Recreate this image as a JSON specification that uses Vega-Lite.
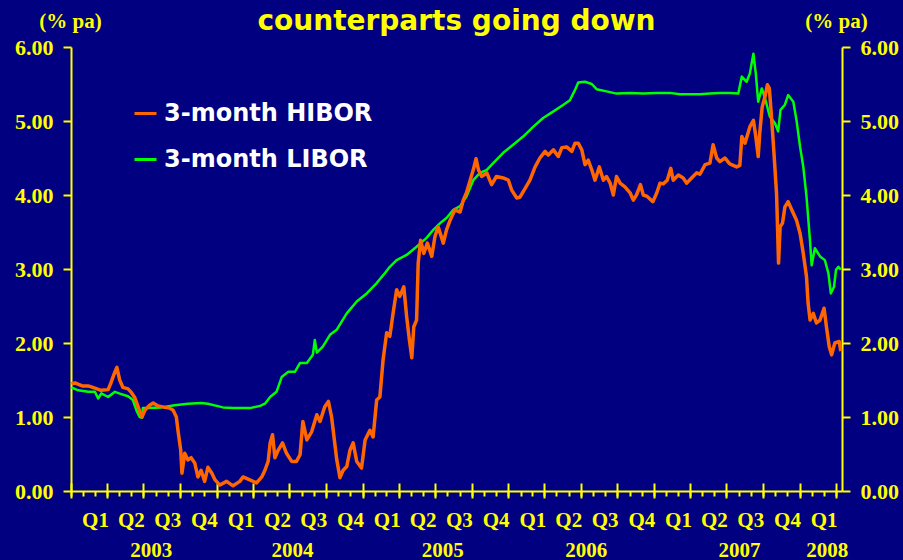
{
  "$schema": "https://vega.github.io/schema/vega-lite/v6.json",
  "width": 771,
  "height": 444,
  "autosize": {"type": "none"},
  "padding": {"left": 71, "top": 47, "right": 61, "bottom": 69},
  "background": "#000080",
  "title": {
    "text": "counterparts going down",
    "color": "#FFFF00",
    "font": "DejaVu Sans",
    "fontWeight": "bold",
    "fontSize": 28,
    "anchor": "middle",
    "frame": "group",
    "baseline": "alphabetic",
    "offset": -48
  },
  "config": {
    "view": {"stroke": null},
    "axis": {
      "domainColor": "#FFFF00",
      "tickColor": "#FFFF00",
      "labelColor": "#FFFF00",
      "titleColor": "#FFFF00",
      "grid": false,
      "domainWidth": 2,
      "tickWidth": 2,
      "labelFont": "Liberation Serif",
      "labelFontWeight": "bold",
      "titleFont": "Liberation Serif",
      "titleFontWeight": "bold"
    }
  },
  "datasets": {
    "hibor": [
      {"date": "2003-01-02", "rate": 1.45}, {"date": "2003-01-11", "rate": 1.46}, {"date": "2003-01-29", "rate": 1.42},
      {"date": "2003-02-13", "rate": 1.42}, {"date": "2003-03-02", "rate": 1.39}, {"date": "2003-03-17", "rate": 1.36},
      {"date": "2003-04-04", "rate": 1.37}, {"date": "2003-04-11", "rate": 1.46}, {"date": "2003-04-21", "rate": 1.61},
      {"date": "2003-04-26", "rate": 1.67}, {"date": "2003-05-03", "rate": 1.50}, {"date": "2003-05-11", "rate": 1.40},
      {"date": "2003-05-24", "rate": 1.38}, {"date": "2003-05-31", "rate": 1.34}, {"date": "2003-06-10", "rate": 1.26},
      {"date": "2003-06-18", "rate": 1.14}, {"date": "2003-06-25", "rate": 1.03}, {"date": "2003-06-28", "rate": 1.00},
      {"date": "2003-07-05", "rate": 1.09}, {"date": "2003-07-17", "rate": 1.16}, {"date": "2003-07-26", "rate": 1.19},
      {"date": "2003-08-07", "rate": 1.15}, {"date": "2003-08-24", "rate": 1.13}, {"date": "2003-09-05", "rate": 1.12},
      {"date": "2003-09-14", "rate": 1.09}, {"date": "2003-09-22", "rate": 1.00}, {"date": "2003-09-26", "rate": 0.82},
      {"date": "2003-10-03", "rate": 0.55}, {"date": "2003-10-06", "rate": 0.24}, {"date": "2003-10-13", "rate": 0.51},
      {"date": "2003-10-21", "rate": 0.42}, {"date": "2003-10-29", "rate": 0.45}, {"date": "2003-11-07", "rate": 0.38},
      {"date": "2003-11-15", "rate": 0.19}, {"date": "2003-11-23", "rate": 0.28}, {"date": "2003-12-02", "rate": 0.13},
      {"date": "2003-12-10", "rate": 0.32}, {"date": "2003-12-20", "rate": 0.24}, {"date": "2003-12-28", "rate": 0.15},
      {"date": "2004-01-09", "rate": 0.08}, {"date": "2004-01-26", "rate": 0.13}, {"date": "2004-02-11", "rate": 0.07},
      {"date": "2004-02-28", "rate": 0.13}, {"date": "2004-03-07", "rate": 0.19}, {"date": "2004-03-24", "rate": 0.15},
      {"date": "2004-04-10", "rate": 0.11}, {"date": "2004-04-23", "rate": 0.19}, {"date": "2004-05-01", "rate": 0.28},
      {"date": "2004-05-09", "rate": 0.40}, {"date": "2004-05-14", "rate": 0.65}, {"date": "2004-05-20", "rate": 0.76},
      {"date": "2004-05-26", "rate": 0.45}, {"date": "2004-06-03", "rate": 0.55}, {"date": "2004-06-14", "rate": 0.65},
      {"date": "2004-06-24", "rate": 0.51}, {"date": "2004-07-07", "rate": 0.40}, {"date": "2004-07-19", "rate": 0.40},
      {"date": "2004-07-28", "rate": 0.49}, {"date": "2004-08-04", "rate": 0.94}, {"date": "2004-08-14", "rate": 0.69},
      {"date": "2004-08-26", "rate": 0.80}, {"date": "2004-09-08", "rate": 1.03}, {"date": "2004-09-16", "rate": 0.94},
      {"date": "2004-09-28", "rate": 1.14}, {"date": "2004-10-07", "rate": 1.21}, {"date": "2004-10-15", "rate": 1.00},
      {"date": "2004-10-28", "rate": 0.42}, {"date": "2004-11-05", "rate": 0.18}, {"date": "2004-11-13", "rate": 0.28},
      {"date": "2004-11-22", "rate": 0.33}, {"date": "2004-11-30", "rate": 0.55}, {"date": "2004-12-08", "rate": 0.65},
      {"date": "2004-12-17", "rate": 0.40}, {"date": "2004-12-29", "rate": 0.31}, {"date": "2005-01-07", "rate": 0.69},
      {"date": "2005-01-19", "rate": 0.82}, {"date": "2005-01-27", "rate": 0.73}, {"date": "2005-02-05", "rate": 1.23},
      {"date": "2005-02-13", "rate": 1.27}, {"date": "2005-02-21", "rate": 1.77}, {"date": "2005-03-02", "rate": 2.14},
      {"date": "2005-03-10", "rate": 2.09}, {"date": "2005-03-18", "rate": 2.40}, {"date": "2005-03-27", "rate": 2.72},
      {"date": "2005-04-04", "rate": 2.63}, {"date": "2005-04-14", "rate": 2.76}, {"date": "2005-04-21", "rate": 2.36},
      {"date": "2005-04-28", "rate": 2.04}, {"date": "2005-05-04", "rate": 1.80}, {"date": "2005-05-09", "rate": 2.22},
      {"date": "2005-05-16", "rate": 2.31}, {"date": "2005-05-20", "rate": 3.08}, {"date": "2005-05-26", "rate": 3.39},
      {"date": "2005-06-03", "rate": 3.21}, {"date": "2005-06-12", "rate": 3.35}, {"date": "2005-06-23", "rate": 3.17},
      {"date": "2005-07-01", "rate": 3.44}, {"date": "2005-07-09", "rate": 3.57}, {"date": "2005-07-22", "rate": 3.35},
      {"date": "2005-07-30", "rate": 3.53}, {"date": "2005-08-08", "rate": 3.66}, {"date": "2005-08-20", "rate": 3.80},
      {"date": "2005-09-02", "rate": 3.77}, {"date": "2005-09-10", "rate": 3.93}, {"date": "2005-09-18", "rate": 4.03},
      {"date": "2005-09-25", "rate": 4.16}, {"date": "2005-10-05", "rate": 4.34}, {"date": "2005-10-12", "rate": 4.49},
      {"date": "2005-10-18", "rate": 4.34}, {"date": "2005-10-26", "rate": 4.25}, {"date": "2005-11-08", "rate": 4.30},
      {"date": "2005-11-20", "rate": 4.14}, {"date": "2005-12-02", "rate": 4.25}, {"date": "2005-12-19", "rate": 4.23},
      {"date": "2006-01-01", "rate": 4.20}, {"date": "2006-01-09", "rate": 4.07}, {"date": "2006-01-22", "rate": 3.96},
      {"date": "2006-01-30", "rate": 3.97}, {"date": "2006-02-12", "rate": 4.09}, {"date": "2006-02-24", "rate": 4.20},
      {"date": "2006-03-09", "rate": 4.38}, {"date": "2006-03-21", "rate": 4.50}, {"date": "2006-04-03", "rate": 4.59},
      {"date": "2006-04-11", "rate": 4.54}, {"date": "2006-04-24", "rate": 4.61}, {"date": "2006-05-06", "rate": 4.52},
      {"date": "2006-05-15", "rate": 4.64}, {"date": "2006-05-27", "rate": 4.65}, {"date": "2006-06-09", "rate": 4.59},
      {"date": "2006-06-17", "rate": 4.70}, {"date": "2006-06-25", "rate": 4.70}, {"date": "2006-07-04", "rate": 4.61},
      {"date": "2006-07-12", "rate": 4.41}, {"date": "2006-07-20", "rate": 4.47}, {"date": "2006-07-29", "rate": 4.34},
      {"date": "2006-08-06", "rate": 4.20}, {"date": "2006-08-17", "rate": 4.38}, {"date": "2006-08-27", "rate": 4.20},
      {"date": "2006-09-04", "rate": 4.25}, {"date": "2006-09-13", "rate": 4.16}, {"date": "2006-09-21", "rate": 4.00},
      {"date": "2006-09-29", "rate": 4.25}, {"date": "2006-10-08", "rate": 4.16}, {"date": "2006-10-20", "rate": 4.11},
      {"date": "2006-11-02", "rate": 4.03}, {"date": "2006-11-10", "rate": 3.93}, {"date": "2006-11-18", "rate": 4.00},
      {"date": "2006-11-28", "rate": 4.14}, {"date": "2006-12-05", "rate": 4.00}, {"date": "2006-12-15", "rate": 3.98},
      {"date": "2006-12-29", "rate": 3.91}, {"date": "2007-01-08", "rate": 4.03}, {"date": "2007-01-16", "rate": 4.16},
      {"date": "2007-01-24", "rate": 4.15}, {"date": "2007-02-03", "rate": 4.20}, {"date": "2007-02-12", "rate": 4.36},
      {"date": "2007-02-18", "rate": 4.20}, {"date": "2007-03-03", "rate": 4.27}, {"date": "2007-03-15", "rate": 4.23},
      {"date": "2007-03-24", "rate": 4.16}, {"date": "2007-04-05", "rate": 4.23}, {"date": "2007-04-18", "rate": 4.30},
      {"date": "2007-04-26", "rate": 4.28}, {"date": "2007-05-09", "rate": 4.41}, {"date": "2007-05-21", "rate": 4.43},
      {"date": "2007-05-29", "rate": 4.68}, {"date": "2007-06-07", "rate": 4.50}, {"date": "2007-06-15", "rate": 4.45},
      {"date": "2007-06-28", "rate": 4.50}, {"date": "2007-07-08", "rate": 4.43}, {"date": "2007-07-14", "rate": 4.41},
      {"date": "2007-07-27", "rate": 4.38}, {"date": "2007-08-04", "rate": 4.40}, {"date": "2007-08-09", "rate": 4.79},
      {"date": "2007-08-17", "rate": 4.70}, {"date": "2007-08-29", "rate": 4.92}, {"date": "2007-09-07", "rate": 5.01},
      {"date": "2007-09-13", "rate": 4.79}, {"date": "2007-09-19", "rate": 4.52}, {"date": "2007-09-23", "rate": 4.84},
      {"date": "2007-09-29", "rate": 5.19}, {"date": "2007-10-06", "rate": 5.33}, {"date": "2007-10-12", "rate": 5.49},
      {"date": "2007-10-17", "rate": 5.44}, {"date": "2007-10-23", "rate": 5.01}, {"date": "2007-10-28", "rate": 4.61},
      {"date": "2007-11-04", "rate": 4.02}, {"date": "2007-11-09", "rate": 3.08}, {"date": "2007-11-13", "rate": 3.57},
      {"date": "2007-11-19", "rate": 3.62}, {"date": "2007-11-25", "rate": 3.84}, {"date": "2007-12-03", "rate": 3.91},
      {"date": "2007-12-12", "rate": 3.80}, {"date": "2007-12-24", "rate": 3.66}, {"date": "2008-01-02", "rate": 3.48},
      {"date": "2008-01-10", "rate": 3.21}, {"date": "2008-01-18", "rate": 2.90}, {"date": "2008-01-22", "rate": 2.54},
      {"date": "2008-01-27", "rate": 2.31}, {"date": "2008-02-04", "rate": 2.40}, {"date": "2008-02-12", "rate": 2.27},
      {"date": "2008-02-21", "rate": 2.31}, {"date": "2008-03-02", "rate": 2.47}, {"date": "2008-03-08", "rate": 2.22},
      {"date": "2008-03-15", "rate": 1.95}, {"date": "2008-03-21", "rate": 1.84}, {"date": "2008-03-29", "rate": 2.00},
      {"date": "2008-04-09", "rate": 2.02}, {"date": "2008-04-13", "rate": 1.89}
    ],
    "libor": [
      {"date": "2003-01-02", "rate": 1.40}, {"date": "2003-01-19", "rate": 1.36}, {"date": "2003-02-13", "rate": 1.34},
      {"date": "2003-03-02", "rate": 1.34}, {"date": "2003-03-10", "rate": 1.25}, {"date": "2003-03-18", "rate": 1.32},
      {"date": "2003-04-04", "rate": 1.27}, {"date": "2003-04-21", "rate": 1.34}, {"date": "2003-05-07", "rate": 1.31},
      {"date": "2003-05-24", "rate": 1.28}, {"date": "2003-06-05", "rate": 1.23}, {"date": "2003-06-14", "rate": 1.09},
      {"date": "2003-06-22", "rate": 1.00}, {"date": "2003-06-28", "rate": 0.99}, {"date": "2003-06-30", "rate": 1.12},
      {"date": "2003-07-13", "rate": 1.12}, {"date": "2003-08-15", "rate": 1.13}, {"date": "2003-09-18", "rate": 1.16},
      {"date": "2003-10-21", "rate": 1.18}, {"date": "2003-11-23", "rate": 1.19}, {"date": "2003-12-10", "rate": 1.18},
      {"date": "2004-01-01", "rate": 1.15}, {"date": "2004-01-17", "rate": 1.13}, {"date": "2004-02-12", "rate": 1.12},
      {"date": "2004-03-24", "rate": 1.12}, {"date": "2004-04-19", "rate": 1.15}, {"date": "2004-05-01", "rate": 1.18},
      {"date": "2004-05-14", "rate": 1.27}, {"date": "2004-05-30", "rate": 1.34}, {"date": "2004-06-12", "rate": 1.54},
      {"date": "2004-06-28", "rate": 1.61}, {"date": "2004-07-15", "rate": 1.61}, {"date": "2004-07-28", "rate": 1.73},
      {"date": "2004-08-14", "rate": 1.73}, {"date": "2004-08-29", "rate": 1.84}, {"date": "2004-09-03", "rate": 2.04},
      {"date": "2004-09-08", "rate": 1.87}, {"date": "2004-09-23", "rate": 1.95}, {"date": "2004-10-03", "rate": 2.04},
      {"date": "2004-10-11", "rate": 2.11}, {"date": "2004-10-28", "rate": 2.18}, {"date": "2004-11-22", "rate": 2.40},
      {"date": "2004-12-17", "rate": 2.56}, {"date": "2005-01-11", "rate": 2.67}, {"date": "2005-02-05", "rate": 2.81},
      {"date": "2005-02-22", "rate": 2.92}, {"date": "2005-03-10", "rate": 3.03}, {"date": "2005-03-27", "rate": 3.12},
      {"date": "2005-04-21", "rate": 3.19}, {"date": "2005-05-16", "rate": 3.30}, {"date": "2005-06-10", "rate": 3.42},
      {"date": "2005-06-27", "rate": 3.53}, {"date": "2005-07-14", "rate": 3.62}, {"date": "2005-07-30", "rate": 3.69},
      {"date": "2005-08-16", "rate": 3.80}, {"date": "2005-09-02", "rate": 3.85}, {"date": "2005-09-18", "rate": 3.98},
      {"date": "2005-10-05", "rate": 4.20}, {"date": "2005-10-22", "rate": 4.30}, {"date": "2005-11-08", "rate": 4.34},
      {"date": "2005-11-24", "rate": 4.43}, {"date": "2005-12-19", "rate": 4.57}, {"date": "2006-01-13", "rate": 4.68},
      {"date": "2006-02-07", "rate": 4.79}, {"date": "2006-03-04", "rate": 4.92}, {"date": "2006-03-29", "rate": 5.04},
      {"date": "2006-04-24", "rate": 5.13}, {"date": "2006-05-19", "rate": 5.22}, {"date": "2006-06-04", "rate": 5.28},
      {"date": "2006-06-17", "rate": 5.42}, {"date": "2006-06-25", "rate": 5.52}, {"date": "2006-07-12", "rate": 5.53},
      {"date": "2006-07-29", "rate": 5.50}, {"date": "2006-08-10", "rate": 5.43}, {"date": "2006-09-04", "rate": 5.40},
      {"date": "2006-09-29", "rate": 5.37}, {"date": "2006-11-02", "rate": 5.38}, {"date": "2006-12-05", "rate": 5.37},
      {"date": "2007-01-08", "rate": 5.38}, {"date": "2007-02-10", "rate": 5.38}, {"date": "2007-03-07", "rate": 5.36},
      {"date": "2007-04-01", "rate": 5.36}, {"date": "2007-04-26", "rate": 5.36}, {"date": "2007-05-21", "rate": 5.37},
      {"date": "2007-06-15", "rate": 5.38}, {"date": "2007-07-10", "rate": 5.38}, {"date": "2007-07-31", "rate": 5.37},
      {"date": "2007-08-09", "rate": 5.60}, {"date": "2007-08-21", "rate": 5.53}, {"date": "2007-08-29", "rate": 5.64},
      {"date": "2007-09-07", "rate": 5.91}, {"date": "2007-09-13", "rate": 5.64}, {"date": "2007-09-19", "rate": 5.26},
      {"date": "2007-09-28", "rate": 5.44}, {"date": "2007-10-06", "rate": 5.31}, {"date": "2007-10-18", "rate": 5.06},
      {"date": "2007-10-31", "rate": 4.97}, {"date": "2007-11-08", "rate": 4.86}, {"date": "2007-11-14", "rate": 5.15},
      {"date": "2007-11-25", "rate": 5.22}, {"date": "2007-12-03", "rate": 5.35}, {"date": "2007-12-16", "rate": 5.26},
      {"date": "2007-12-24", "rate": 5.01}, {"date": "2008-01-02", "rate": 4.65}, {"date": "2008-01-10", "rate": 4.38},
      {"date": "2008-01-18", "rate": 3.98}, {"date": "2008-01-22", "rate": 3.71}, {"date": "2008-01-27", "rate": 3.37},
      {"date": "2008-01-31", "rate": 3.05}, {"date": "2008-02-08", "rate": 3.28}, {"date": "2008-02-21", "rate": 3.17},
      {"date": "2008-03-04", "rate": 3.12}, {"date": "2008-03-13", "rate": 2.94}, {"date": "2008-03-19", "rate": 2.67},
      {"date": "2008-03-27", "rate": 2.76}, {"date": "2008-04-01", "rate": 2.99}, {"date": "2008-04-07", "rate": 3.03},
      {"date": "2008-04-13", "rate": 2.99}
    ]
  },
  "layer": [
    {
      "data": {"name": "libor"},
      "mark": {"type": "line", "strokeWidth": 2.5, "strokeJoin": "round"},
      "encoding": {
        "x": {
          "field": "date", "type": "temporal",
          "scale": {"type": "utc", "domain": [{"year": 2003, "month": 1, "date": 1, "utc": true}, {"year": 2008, "month": 4, "date": 16, "utc": true}]},
          "axis": {"orient": "bottom", "title": null, "labels": false, "domain": true, "ticks": true, "tickCount": {"interval": "month", "step": 1}, "tickSize": 5}
        },
        "y": {
          "field": "rate", "type": "quantitative",
          "scale": {"domain": [0, 6], "nice": false, "zero": true},
          "axis": {"orient": "left", "values": [0, 1, 2, 3, 4, 5, 6], "format": ".2f", "tickSize": 8, "labelFontSize": 22, "labelPadding": 10,
                   "title": "(% pa)", "titleAngle": 0, "titleX": -1, "titleY": -26, "titleAlign": "center", "titleBaseline": "middle", "titleFontSize": 21}
        },
        "color": {
          "datum": "3-month LIBOR",
          "scale": {"domain": ["3-month HIBOR", "3-month LIBOR"], "range": ["#FF6600", "#00FF00"]},
          "legend": {
            "orient": "none", "legendX": 62, "legendY": 54, "title": null, "direction": "vertical",
            "symbolType": "stroke", "symbolSize": 484, "symbolStrokeWidth": 3,
            "labelFont": "DejaVu Sans", "labelFontWeight": "bold", "labelFontSize": 24, "labelColor": "#FFFFFF",
            "labelOffset": 6, "rowPadding": 21, "padding": 0, "labelLimit": 400
          }
        }
      }
    },
    {
      "data": {"name": "hibor"},
      "mark": {"type": "line", "strokeWidth": 3.5, "strokeJoin": "round"},
      "encoding": {
        "x": {
          "field": "date", "type": "temporal",
          "axis": {"orient": "bottom", "title": null, "offset": -8, "domain": false, "ticks": true,
                   "tickCount": {"interval": "month", "step": 3}, "tickSize": 15,
                   "labelExpr": "(utcyear(datum.value) == 2008 && utcmonth(datum.value) >= 3) ? '' : 'Q' + (floor(utcmonth(datum.value) / 3) + 1)",
                   "labelOffset": 24, "labelPadding": 11, "labelFontSize": 21, "labelBaseline": "top",
                   "labelOverlap": false, "labelFlush": false, "labelBound": false}
        },
        "y": {
          "field": "rate", "type": "quantitative",
          "axis": {"orient": "right", "values": [0, 1, 2, 3, 4, 5, 6], "format": ".2f", "tickSize": 8, "labelFontSize": 22, "labelPadding": 10,
                   "title": "(% pa)", "titleAngle": 0, "titleX": -6, "titleY": -26, "titleAlign": "center", "titleBaseline": "middle", "titleFontSize": 21}
        },
        "color": {"datum": "3-month HIBOR"}
      }
    },
    {
      "data": {"name": "hibor"},
      "mark": {"type": "line", "opacity": 0},
      "encoding": {
        "x": {
          "field": "date", "type": "temporal",
          "axis": {"orient": "bottom", "title": null, "domain": false, "ticks": false, "tickSize": 0,
                   "values": [
                     {"year": 2003, "month": 7, "date": 20, "utc": true},
                     {"year": 2004, "month": 7, "date": 8, "utc": true},
                     {"year": 2005, "month": 7, "date": 19, "utc": true},
                     {"year": 2006, "month": 7, "date": 14, "utc": true},
                     {"year": 2007, "month": 8, "date": 2, "utc": true},
                     {"year": 2008, "month": 3, "date": 9, "utc": true}
                   ],
                   "labelExpr": "'' + utcyear(datum.value)",
                   "labelPadding": 48, "labelFontSize": 21, "labelBaseline": "top",
                   "labelOverlap": false, "labelFlush": false, "labelBound": false}
        },
        "y": {"field": "rate", "type": "quantitative", "axis": null}
      }
    }
  ],
  "resolve": {"axis": {"x": "independent", "y": "independent"}}
}
